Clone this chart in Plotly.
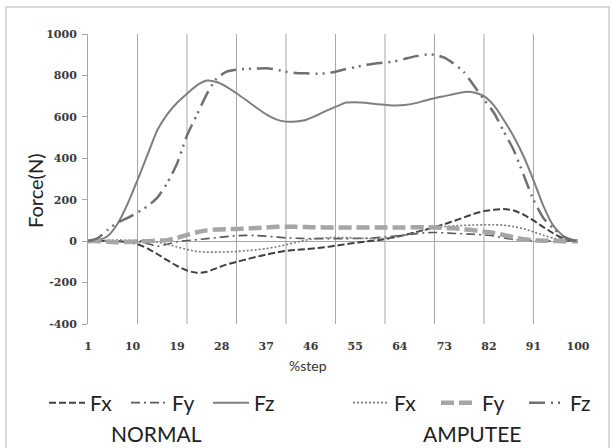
import plotly.graph_objects as go

# ---------------- data ----------------
STEP = [1, 3, 5, 7, 9, 11, 13, 15, 17, 19, 21, 23, 25, 27, 29, 31, 33, 35, 37, 39,
        41, 43, 45, 47, 49, 51, 53, 55, 57, 59, 61, 63, 65, 67, 69, 71, 73, 75, 77, 79,
        81, 83, 85, 87, 89, 91, 93, 95, 97, 99, 100]

normal_fx = [0, 0, 2, 0, -5, -15, -35, -62, -92, -120,
             -142, -153, -148, -130, -113, -100, -88, -76, -65, -55,
             -47, -42, -39, -34, -29, -22, -15, -8, -2, 3,
             10, 20, 30, 42, 55, 68, 82, 98, 115, 132,
             145, 152, 155, 148, 128, 100, 68, 38, 12, 2, 0]
normal_fy = [0, 0, 0, 0, 0, -3, -12, -25, -15, -3,
             3, 7, 12, 17, 22, 26, 28, 27, 24, 20,
             16, 14, 13, 12, 12, 12, 12, 13, 14, 16,
             20, 25, 30, 35, 40, 42, 40, 37, 35, 33,
             30, 25, 15, 8, 4, 2, 1, 0, 0, 0, 0]
normal_fz = [0, 5, 25, 85, 180, 295, 415, 535, 612, 668,
             712, 752, 775, 768, 745, 714, 680, 645, 612, 588,
             577, 578, 585, 605, 628, 648, 668, 670, 668, 662,
             658, 655, 657, 665, 678, 690, 700, 710, 720, 718,
             700, 655, 585, 505, 410, 295, 170, 75, 25, 4, 0]
amputee_fx = [0, 0, 3, 5, 4, 2, 0, -5, -15, -28,
              -40, -50, -53, -53, -52, -50, -46, -42, -36, -28,
              -18, -6, 5, 13, 16, 18, 17, 15, 13, 12,
              13, 18, 28, 40, 52, 62, 70, 74, 76, 78,
              79, 79, 77, 70, 60, 45, 28, 15, 6, 1, 0]
amputee_fy = [0, 0, -3, -5, -4, -2, 0, 2, 5, 15,
              30, 43, 52, 56, 58, 59, 61, 63, 66, 69,
              70, 69, 68, 67, 66, 66, 66, 66, 66, 66,
              66, 66, 66, 67, 67, 66, 64, 62, 58, 52,
              46, 40, 30, 18, 9, 4, 2, 1, 0, 0, 0]
amputee_fz = [0, 15, 55, 90, 112, 138, 168, 210, 280, 375,
              510, 610, 710, 786, 818, 828, 832, 833, 835, 828,
              818, 812, 810, 808, 810, 818, 830, 840, 850, 858,
              862, 868, 880, 892, 900, 900, 886, 855, 815, 750,
              683, 620, 530, 440, 320, 200, 112, 62, 22, 4, 0]

X_TICKS = [1, 10, 19, 28, 37, 46, 55, 64, 73, 82, 91, 100]
X_GRID = [11, 21, 31, 41, 51, 61, 71, 81, 91]
Y_TICKS = [-400, -200, 0, 200, 400, 600, 800, 1000]

# ---------------- figure ----------------
W, H = 613, 448
ML, MR, MT, MB = 88, 35, 34, 124
PW, PH = W - ML - MR, H - MT - MB

fig = go.Figure()

series = [
    ("Fx", normal_fx, "legend", dict(color="#404040", width=2, dash="7px,3px")),
    ("Fy", normal_fy, "legend", dict(color="#5a5a5a", width=1.6, dash="9px,4px,2px,4px")),
    ("Fz", normal_fz, "legend", dict(color="#7f7f7f", width=2)),
    ("Fx", amputee_fx, "legend2", dict(color="#7a7a7a", width=1.6, dash="2px,2px")),
    ("Fy", amputee_fy, "legend2", dict(color="#a6a6a6", width=4.5, dash="13px,5px")),
    ("Fz", amputee_fz, "legend2", dict(color="#707070", width=2.5, dash="16px,6px,2px,5px,2px,6px")),
]
for name, ys, lg, ln in series:
    fig.add_trace(go.Scatter(x=STEP, y=ys, mode="lines", name=name, legend=lg,
                             line=dict(shape="spline", smoothing=0.6, **ln)))

for gx in X_GRID:
    fig.add_vline(x=gx, line=dict(color="#a6a6a6", width=1), layer="below")

tick_font = dict(family="DejaVu Serif", size=11, color="#3a3a3a", weight="bold")
txt_font = dict(family="Lato", size=21, color="#222222")

fig.update_layout(
    width=W, height=H,
    margin=dict(l=ML, r=MR, t=MT, b=MB),
    paper_bgcolor="white", plot_bgcolor="white",
    xaxis=dict(range=[1, 100], tickmode="array", tickvals=X_TICKS,
               ticktext=[str(v) for v in X_TICKS], showgrid=False, zeroline=False,
               showline=False, ticks="", tickfont=tick_font, ticklabelstandoff=14),
    yaxis=dict(range=[-400, 1000], tickmode="array", tickvals=Y_TICKS,
               ticktext=[str(v) for v in Y_TICKS],
               showgrid=False, zeroline=True, zerolinecolor="#a6a6a6", zerolinewidth=1,
               showline=True, linecolor="#a6a6a6", linewidth=1, ticks="outside",
               ticklen=5, tickcolor="#a6a6a6", tickfont=tick_font, ticklabelstandoff=3),
    legend=dict(orientation="h", xref="container", yref="container",
                x=44 / W, y=1 - 403 / H, xanchor="left", yanchor="middle",
                font=txt_font, entrywidth=31, entrywidthmode="pixels",
                bgcolor="rgba(0,0,0,0)", itemwidth=36),
    legend2=dict(orientation="h", xref="container", yref="container",
                 x=348 / W, y=1 - 403 / H, xanchor="left", yanchor="middle",
                 font=txt_font, entrywidth=37, entrywidthmode="pixels",
                 bgcolor="rgba(0,0,0,0)", itemwidth=36),
    showlegend=True,
)

def px_to_paper(px, py):
    return (px - ML) / PW, (H - MB - py) / PH

annots = [
    ("Force(N)", 35, 191, -90, dict(family="Lato", size=20, color="#222222")),
    ("%step", 308, 365, 0, dict(family="Lato", size=14, color="#333333")),
    ("NORMAL", 156, 433, 0, txt_font),
    ("AMPUTEE", 472, 433, 0, txt_font),
]
for text, ax, ay, ang, fnt in annots:
    xp, yp = px_to_paper(ax, ay)
    fig.add_annotation(text=text, x=xp, y=yp, xref="paper", yref="paper",
                       showarrow=False, textangle=ang, font=fnt,
                       xanchor="center", yanchor="middle")

x0, y1 = px_to_paper(6, 7)
x1, y0 = px_to_paper(609, 470)
fig.add_shape(type="rect", xref="paper", yref="paper", x0=x0, x1=x1, y0=y0, y1=y1,
              line=dict(color="#d9d9d9", width=2), layer="below")

fig.write_html("out.html", config={"displayModeBar": False},
               post_script="document.body.style.margin='0px';")
